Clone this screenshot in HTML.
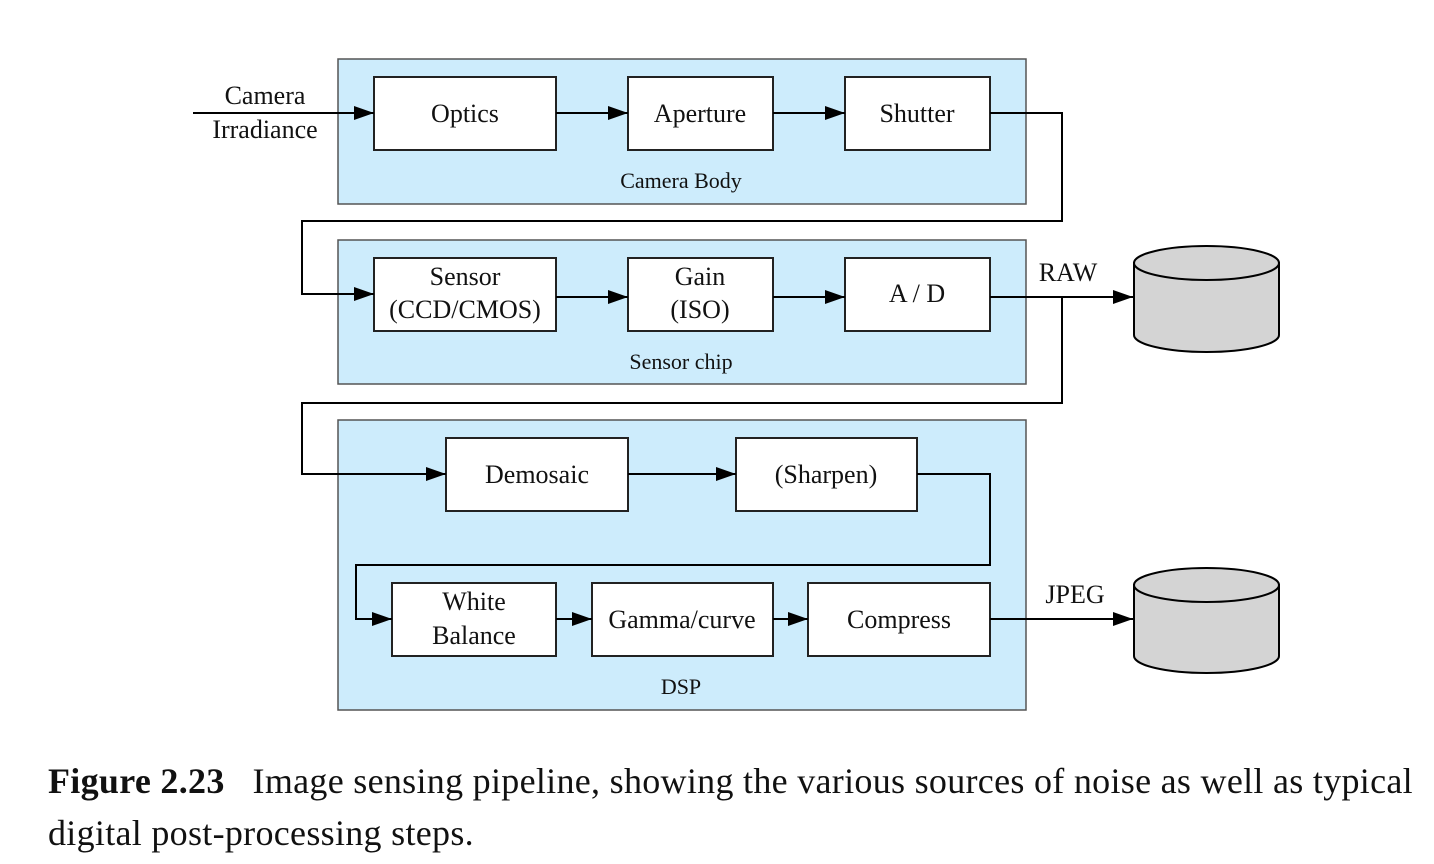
<!DOCTYPE html>
<html><head><meta charset="utf-8"><style>
body{margin:0;background:#fff;width:1434px;height:864px;overflow:hidden}
svg text{font-family:"Liberation Serif",serif;fill:#111}
.cap{position:absolute;left:48px;font-family:"Liberation Serif",serif;font-size:36px;color:#111;white-space:nowrap;letter-spacing:0.3px}
</style></head><body>
<svg width="1434" height="760" style="position:absolute;left:0;top:0">
<defs><marker id="ah" markerWidth="20" markerHeight="14" refX="20" refY="7" orient="auto" markerUnits="userSpaceOnUse"><path d="M0,0 L20,7 L0,14 Z" fill="#000"/></marker></defs>
<g fill="#cdecfc" stroke="#555" stroke-width="1.5">
<rect x="338" y="59" width="688" height="145"/>
<rect x="338" y="240" width="688" height="144"/>
<rect x="338" y="420" width="688" height="290"/>
</g>
<g fill="#fff" stroke="#222" stroke-width="2">
<rect x="374" y="77" width="182" height="73"/>
<rect x="628" y="77" width="145" height="73"/>
<rect x="845" y="77" width="145" height="73"/>
<rect x="374" y="258" width="182" height="73"/>
<rect x="628" y="258" width="145" height="73"/>
<rect x="845" y="258" width="145" height="73"/>
<rect x="446" y="438" width="182" height="73"/>
<rect x="736" y="438" width="181" height="73"/>
<rect x="392" y="583" width="164" height="73"/>
<rect x="592" y="583" width="181" height="73"/>
<rect x="808" y="583" width="182" height="73"/>
</g>
<g fill="none" stroke="#000" stroke-width="2" marker-end="url(#ah)">
<path d="M193,113 H374"/><path d="M556,113 H628"/><path d="M773,113 H845"/>
<path d="M990,113 H1062 V221 H302 V294 H374"/>
<path d="M556,297 H628"/><path d="M773,297 H845"/>
<path d="M990,297 H1133"/>
<path d="M1062,297 V403 H302 V474 H446"/>
<path d="M628,474 H736"/>
<path d="M917,474 H990 V565 H356 V619 H392"/>
<path d="M556,619 H592"/><path d="M773,619 H808"/>
<path d="M990,619 H1133"/>
</g>
<g stroke="#000" stroke-width="2" fill="#d4d4d4">
<path d="M1134,263 V335 A72.5,17 0 0 0 1279,335 V263 Z"/>
<ellipse cx="1206.5" cy="263" rx="72.5" ry="17"/>
</g>
<g stroke="#000" stroke-width="2" fill="#d4d4d4">
<path d="M1134,585 V656 A72.5,17 0 0 0 1279,656 V585 Z"/>
<ellipse cx="1206.5" cy="585" rx="72.5" ry="17"/>
</g>
<g font-size="26" text-anchor="middle">
<text x="265" y="104">Camera</text><text x="265" y="138">Irradiance</text>
<text x="465" y="122">Optics</text><text x="700" y="122">Aperture</text><text x="917" y="122">Shutter</text>
<text x="465" y="285">Sensor</text><text x="465" y="318">(CCD/CMOS)</text>
<text x="700" y="285">Gain</text><text x="700" y="318">(ISO)</text>
<text x="917" y="302">A / D</text>
<text x="537" y="483">Demosaic</text><text x="826" y="483">(Sharpen)</text>
<text x="474" y="610">White</text><text x="474" y="644">Balance</text>
<text x="682" y="628">Gamma/curve</text><text x="899" y="628">Compress</text>
<text x="1068" y="281">RAW</text><text x="1075" y="603">JPEG</text>
</g>
<g font-size="22" text-anchor="middle">
<text x="681" y="188">Camera Body</text><text x="681" y="369">Sensor chip</text><text x="681" y="694">DSP</text>
</g>
</svg>
<div class="cap" style="top:760px"><b>Figure 2.23</b>&nbsp;&nbsp; Image sensing pipeline, showing the various sources of noise as well as typical</div>
<div class="cap" style="top:812px">digital post-processing steps.</div>
</body></html>
